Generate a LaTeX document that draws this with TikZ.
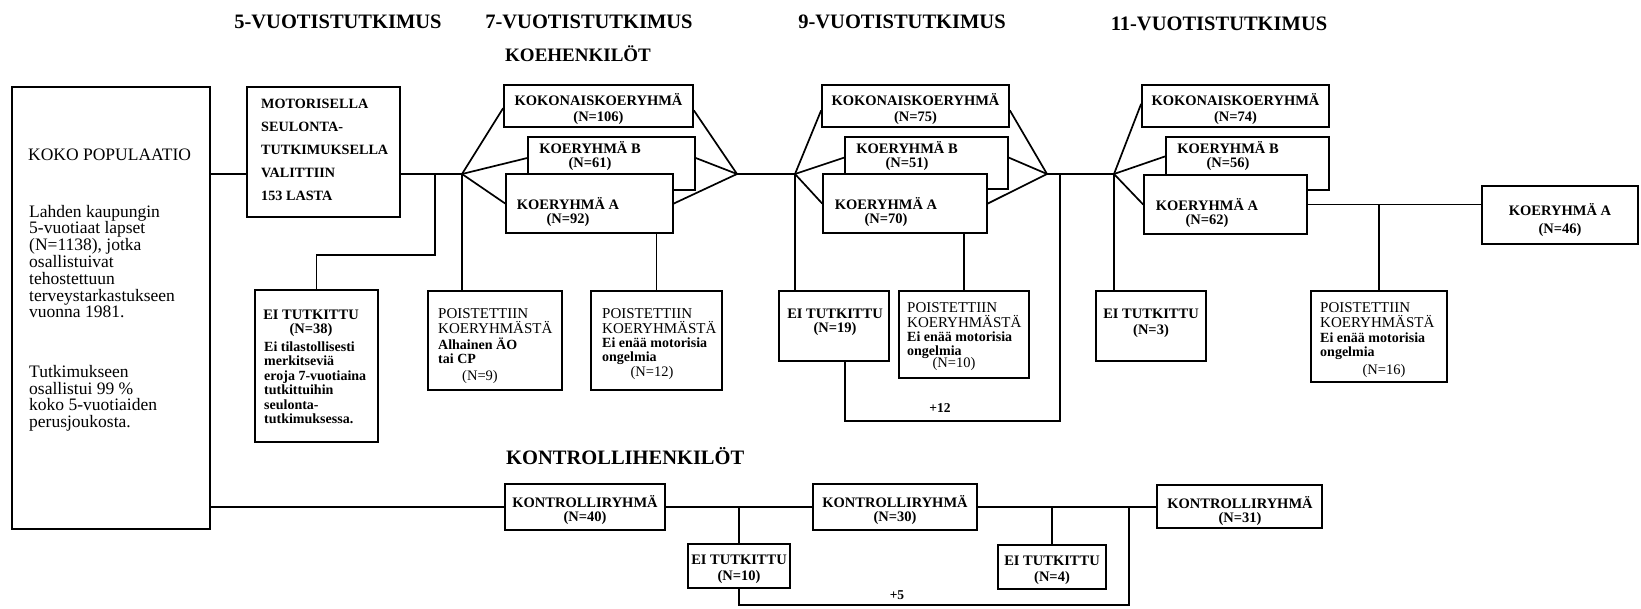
\documentclass[tikz,border=0pt]{standalone}
\usepackage{fontspec}
\setmainfont{Liberation Serif}
\usetikzlibrary{calc}
\lineskiplimit=-100pt
\newcommand\bx[5]{\node[box, minimum width={(#4-#2)*1pt}, minimum height={(#5-#3)*1pt}] (#1) at ({(#2+#4)/2},{(#3+#5)/2}) {};}
% name, style, x, baseline, strut height, text
\newcommand\tx[6]{\node[#2] (#1) at (#3,{#4-#5}) {\rule{0pt}{#5pt}#6};}
\tikzset{
  box/.style={draw, line width=1.7pt, fill=white, inner sep=0pt},
  ln/.style={line width=1.7pt},
  tl/.style={anchor=north west, inner sep=0pt, align=left},
  tc/.style={anchor=north, inner sep=0pt, align=center},
  hdr/.style={inner sep=0pt, font=\fontsize{20.5}{24}\selectfont\bfseries},
  koko/.style={font=\fontsize{17.5}{16.8}\selectfont},
  motor/.style={font=\fontsize{14.2}{23}\selectfont\bfseries},
  lab/.style={font=\fontsize{14.5}{16}\selectfont\bfseries},
  labt/.style={font=\fontsize{14.5}{14}\selectfont\bfseries},
  labw/.style={font=\fontsize{14.5}{18}\selectfont\bfseries},
  small/.style={font=\fontsize{14}{14.5}\selectfont\bfseries},
  phead/.style={font=\fontsize{15}{15}\selectfont},
  nn/.style={anchor=base, inner sep=0pt, font=\fontsize{14.5}{16}\selectfont},
  plus/.style={anchor=base, inner sep=0pt, font=\fontsize{13.5}{16}\selectfont\bfseries}
}
\begin{document}
\begin{tikzpicture}[x=1pt,y=-1pt]
\useasboundingbox (0,0) rectangle (1641,609);
\fill[white] (0,0) rectangle (1641,609);

% headers
\node[hdr, anchor=base] (h5) at (338,29) {5-VUOTISTUTKIMUS};
\node[hdr, anchor=base] (h7) at (589,29) {7-VUOTISTUTKIMUS};
\node[hdr, anchor=base] (h9) at (902,29) {9-VUOTISTUTKIMUS};
\node[hdr, anchor=base] (h11) at (1219,31) {11-VUOTISTUTKIMUS};
\node[hdr, anchor=base west, font=\fontsize{19}{24}\selectfont\bfseries] (koeh) at (505,62) {KOEHENKILÖT};
\node[hdr, anchor=base west] (kontrh) at (506,464) {KONTROLLIHENKILÖT};

% coordinates
\coordinate (f1) at (462,174);
\coordinate (mg1) at (737,174);
\coordinate (f2) at (795,174);
\coordinate (mg2) at (1047,174);
\coordinate (j12) at (1060,174);
\coordinate (f3) at (1114,174);
\coordinate (mj) at (435,174);
\coordinate (mj2) at (435,255);
\coordinate (p12a) at (845,421);
\coordinate (p12b) at (1060,421);
\coordinate (c5a) at (739,605);
\coordinate (c5b) at (1129,605);

% boxes
\bx{koko}{12}{87}{210}{529}
\bx{motor}{247}{87}{400}{217}
\bx{ei38}{255}{290}{378}{442}
\bx{kok1}{504}{85}{693}{127}
\bx{b1}{528}{137}{695}{190}
\bx{a1}{506}{174}{673}{233}
\bx{po1}{428}{291}{562}{390}
\bx{po2}{591}{291}{722}{390}
\bx{kok2}{822}{85}{1009}{127}
\bx{b2}{845}{137}{1008}{189}
\bx{a2}{823}{174}{987}{233}
\bx{ei19}{779}{291}{889}{361}
\bx{po3}{899}{291}{1029}{378}
\bx{kok3}{1142}{85}{1329}{127}
\bx{b3}{1166}{137}{1329}{190}
\bx{a3}{1144}{175}{1307}{234}
\bx{ei3}{1096}{291}{1206}{361}
\bx{po4}{1311}{291}{1447}{382}
\bx{a46}{1482}{186}{1638}{244}
\bx{k40}{505}{484}{665}{530}
\bx{k30}{813}{484}{977}{530}
\bx{k31}{1157}{485}{1322}{528}
\bx{ei10}{688}{544}{790}{588}
\bx{ei4}{998}{545}{1106}{589}

% connectors, experimental group
\draw[ln] (koko.east |- f1) -- (motor.west |- f1);
\draw[ln] (motor.east |- f1) -- (f1);
\draw[ln] (mj) -- (mj2) -| (ei38.north);
\draw[ln] (f1) -- ($(kok1.north west)!0.55!(kok1.south west)$);
\draw[ln] (f1) -- ($(b1.north west)!0.4!(b1.south west)$);
\draw[ln] (f1) -- (a1.west);
\draw[ln] ($(kok1.north east)!0.6!(kok1.south east)$) -- (mg1);
\draw[ln] ($(b1.north east)!0.4!(b1.south east)$) -- (mg1);
\draw[ln] (a1.east) -- (mg1);
\draw[ln] (f1) -- (f1 |- po1.north);
\draw[ln] (po2.north) -- (po2.north |- a1.south);
\draw[ln] (mg1) -- (f2);
\draw[ln] (f2) -- ($(kok2.north west)!0.6!(kok2.south west)$);
\draw[ln] (f2) -- ($(b2.north west)!0.4!(b2.south west)$);
\draw[ln] (f2) -- (a2.west);
\draw[ln] ($(kok2.north east)!0.6!(kok2.south east)$) -- (mg2);
\draw[ln] ($(b2.north east)!0.4!(b2.south east)$) -- (mg2);
\draw[ln] (a2.east) -- (mg2);
\draw[ln] (f2) -- (f2 |- ei19.north);
\draw[ln] (po3.north) -- (po3.north |- a2.south);
\draw[ln] (mg2) -- (f3);
\draw[ln] (ei19.south -| p12a) -- (p12a) -- (p12b) -- (j12);
\draw[ln] (f3) -- ($(kok3.north west)!0.45!(kok3.south west)$);
\draw[ln] (f3) -- ($(b3.north west)!0.37!(b3.south west)$);
\draw[ln] (f3) -- (a3.west);
\draw[ln] (f3) -- (f3 |- ei3.north);
\draw[ln] (a3.east) -- (a46.west |- a3.east);
\draw[ln] (po4.north) -- (po4.north |- a3.east);

% connectors, control group
\draw[ln] (koko.east |- k40.west) -- (k40.west);
\draw[ln] (k40.east) -- (k30.west);
\draw[ln] (k30.east) -- (k31.west |- k30.east);
\draw[ln] (ei10.north) -- (ei10.north |- k40.east);
\draw[ln] (ei4.north) -- (ei4.north |- k30.east);
\draw[ln] (ei10.south) -- (c5a) -- (c5b) -- (c5b |- k30.east);

% redraw overlapping boxes in order (B behind A)
\bx{b1r}{528}{137}{695}{190}
\bx{a1r}{506}{174}{673}{233}
\bx{b2r}{845}{137}{1008}{189}
\bx{a2r}{823}{174}{987}{233}
\bx{b3r}{1166}{137}{1329}{190}
\bx{a3r}{1144}{175}{1307}{234}

% texts
\node[anchor=base west, inner sep=0pt, koko] (kokot) at (28,161) {KOKO POPULAATIO};
\tx{kokod}{tl, koko}{29}{217}{16}{Lahden kaupungin\\5-vuotiaat lapset\\(N=1138), jotka\\osallistuivat\\tehostettuun\\terveystarkastukseen\\vuonna 1981.}
\tx{kokoe}{tl, koko}{29}{377}{16}{Tutkimukseen\\osallistui 99 \%\\koko 5-vuotiaiden\\perusjoukosta.}
\tx{motort}{tl, motor}{261}{108}{13}{MOTORISELLA\\SEULONTA-\\TUTKIMUKSELLA\\VALITTIIN\\153 LASTA}
\tx{ei38t}{tc, labt}{311}{319}{13.5}{EI TUTKITTU\\(N=38)}
\tx{ei38d}{tl, small}{264}{351}{13}{Ei tilastollisesti\\merkitseviä\\eroja 7-vuotiaina\\tutkittuihin\\seulonta-\\tutkimuksessa.}

\tx{kok1t}{tc, lab}{598.5}{105}{13.5}{KOKONAISKOERYHMÄ\\(N=106)}
\tx{b1t}{tc, labt}{590}{153}{13.5}{KOERYHMÄ B\\(N=61)}
\tx{a1t}{tc, labt}{568}{209}{13.5}{KOERYHMÄ A\\(N=92)}
\tx{kok2t}{tc, lab}{915.5}{105}{13.5}{KOKONAISKOERYHMÄ\\(N=75)}
\tx{b2t}{tc, labt}{907}{153}{13.5}{KOERYHMÄ B\\(N=51)}
\tx{a2t}{tc, labt}{886}{209}{13.5}{KOERYHMÄ A\\(N=70)}
\tx{kok3t}{tc, lab}{1235.5}{105}{13.5}{KOKONAISKOERYHMÄ\\(N=74)}
\tx{b3t}{tc, labt}{1228}{153}{13.5}{KOERYHMÄ B\\(N=56)}
\tx{a3t}{tc, labt}{1207}{210}{13.5}{KOERYHMÄ A\\(N=62)}
\tx{a46t}{tc, labw}{1560}{215}{13.5}{KOERYHMÄ A\\(N=46)}

\tx{po1h}{tl, phead}{438}{318}{14}{POISTETTIIN\\KOERYHMÄSTÄ}
\tx{po1d}{tl, small}{438}{349}{13}{Alhainen ÄO\\tai CP}
\node[nn] (po1n) at (480,381) {(N=9)};
\tx{po2h}{tl, phead}{602}{318}{14}{POISTETTIIN\\KOERYHMÄSTÄ}
\tx{po2d}{tl, small}{602}{347}{13}{Ei enää motorisia\\ongelmia}
\node[nn] (po2n) at (652,377) {(N=12)};
\tx{ei19t}{tc, labt}{835}{318}{13.5}{EI TUTKITTU\\(N=19)}
\tx{po3h}{tl, phead}{907}{312}{14}{POISTETTIIN\\KOERYHMÄSTÄ}
\tx{po3d}{tl, small}{907}{341}{13}{Ei enää motorisia\\ongelmia}
\node[nn] (po3n) at (954,368) {(N=10)};
\tx{ei3t}{tc, lab}{1151}{318}{13.5}{EI TUTKITTU\\(N=3)}
\tx{po4h}{tl, phead}{1320}{312}{14}{POISTETTIIN\\KOERYHMÄSTÄ}
\tx{po4d}{tl, small}{1320}{342}{13}{Ei enää motorisia\\ongelmia}
\node[nn] (po4n) at (1384,375) {(N=16)};
\node[plus] (p12) at (940,413) {+12};

\tx{k40t}{tc, labt}{585}{507}{13.5}{KONTROLLIRYHMÄ\\(N=40)}
\tx{k30t}{tc, labt}{895}{507}{13.5}{KONTROLLIRYHMÄ\\(N=30)}
\tx{k31t}{tc, labt}{1240}{508}{13.5}{KONTROLLIRYHMÄ\\(N=31)}
\tx{ei10t}{tc, lab}{739}{564}{13.5}{EI TUTKITTU\\(N=10)}
\tx{ei4t}{tc, lab}{1052}{565}{13.5}{EI TUTKITTU\\(N=4)}
\node[plus] (p5) at (897,599) {+5};
\end{tikzpicture}
\end{document}
